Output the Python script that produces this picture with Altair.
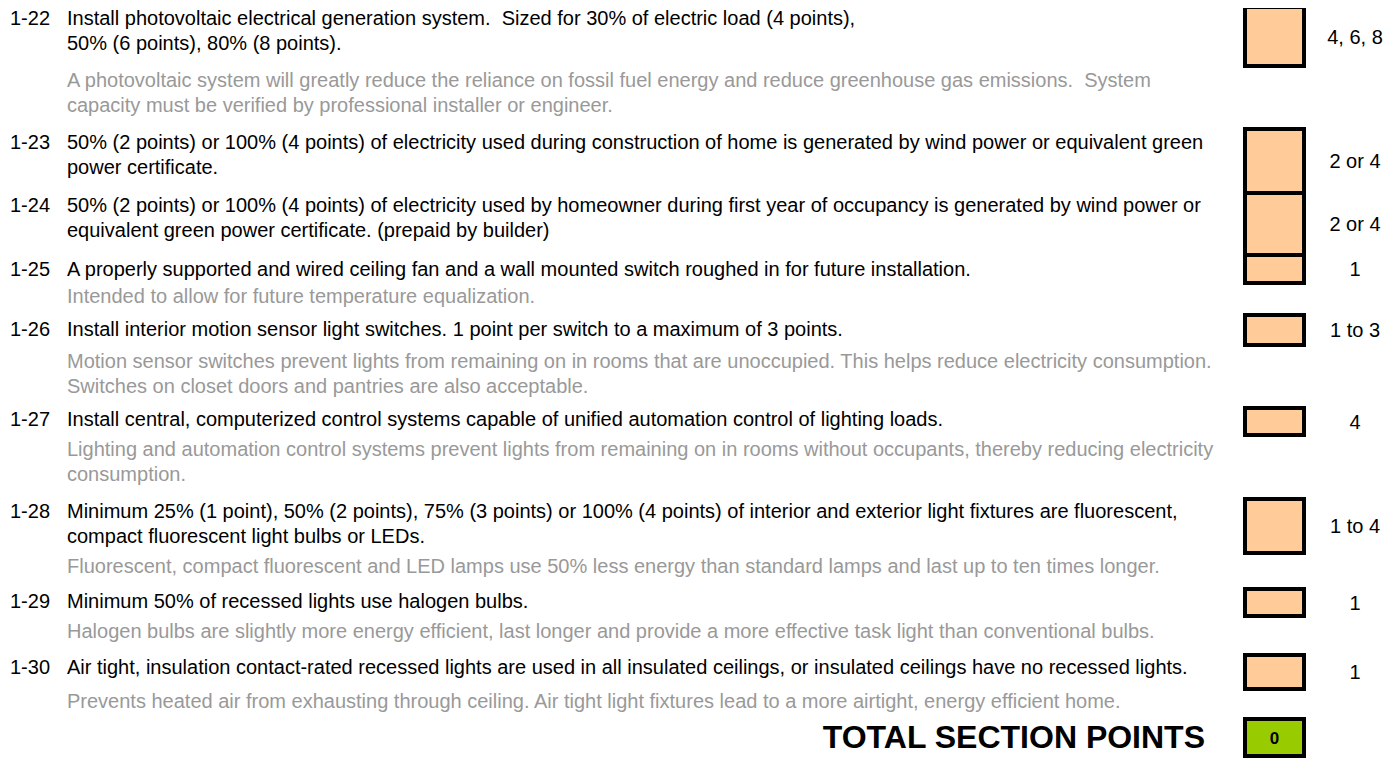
import altair as alt
import pandas as pd

# ---------------- data ----------------
item_ids = ["1-22", "1-23", "1-24", "1-25", "1-26", "1-27", "1-28", "1-29", "1-30"]

main_text = [
    ["Install photovoltaic electrical generation system.\u00a0 Sized for 30% of electric load (4 points),",
     "50% (6 points), 80% (8 points)."],
    ["50% (2 points) or 100% (4 points) of electricity used during construction of home is generated by wind power or equivalent green",
     "power certificate."],
    ["50% (2 points) or 100% (4 points) of electricity used by homeowner during first year of occupancy is generated by wind power or",
     "equivalent green power certificate. (prepaid by builder)"],
    ["A properly supported and wired ceiling fan and a wall mounted switch roughed in for future installation."],
    ["Install interior motion sensor light switches. 1 point per switch to a maximum of 3 points."],
    ["Install central, computerized control systems capable of unified automation control of lighting loads."],
    ["Minimum 25% (1 point), 50% (2 points), 75% (3 points) or 100% (4 points) of interior and exterior light fixtures are fluorescent,",
     "compact fluorescent light bulbs or LEDs."],
    ["Minimum 50% of recessed lights use halogen bulbs."],
    ["Air tight, insulation contact-rated recessed lights are used in all insulated ceilings, or insulated ceilings have no recessed lights."],
]

note_text = [
    ["A photovoltaic system will greatly reduce the reliance on fossil fuel energy and reduce greenhouse gas emissions.\u00a0 System",
     "capacity must be verified by professional installer or engineer."],
    [],
    [],
    ["Intended to allow for future temperature equalization."],
    ["Motion sensor switches prevent lights from remaining on in rooms that are unoccupied. This helps reduce electricity consumption.",
     "Switches on closet doors and pantries are also acceptable."],
    ["Lighting and automation control systems prevent lights from remaining on in rooms without occupants, thereby reducing electricity",
     "consumption."],
    ["Fluorescent, compact fluorescent and LED lamps use 50% less energy than standard lamps and last up to ten times longer."],
    ["Halogen bulbs are slightly more energy efficient, last longer and provide a more effective task light than conventional bulbs."],
    ["Prevents heated air from exhausting through ceiling. Air tight light fixtures lead to a more airtight, energy efficient home."],
]

point_labels = ["4, 6, 8", "2 or 4", "2 or 4", "1", "1 to 3", "4", "1 to 4", "1", "1"]

total_label = "TOTAL SECTION POINTS"
total_value = "0"

# ---------------- layout (page pixels) ----------------
W, H = 1398, 759
MARGIN = 8
ROW_Y = [19, 143, 206, 270, 330, 420, 512, 602, 668]      # first main line of each item
NOTE_Y = [81, None, None, 297, 362, 450, 567, 632, 702]   # first note line of each item
LINE_STEP = 24.5
NUM_X, TEXT_X = 10, 67
BOX_X = (1245, 1304)
BOX_Y = [(7, 66), (129, 193), (193, 255), (255, 283), (315, 345),
         (408, 435), (499, 553), (589, 616), (655, 689)]
TOTAL_BOX_Y = (719, 756)
POINTS_X = 1355
TOTAL_TEXT_X, TOTAL_TEXT_Y = 1205, 738
FONT = "Liberation Sans"

# ---------------- tables ----------------
num_rows, main_rows, note_rows, pts_rows, box_rows = [], [], [], [], []
for i, item in enumerate(item_ids):
    num_rows.append({"x": NUM_X, "y": ROW_Y[i], "t": item})
    for j, line in enumerate(main_text[i]):
        main_rows.append({"x": TEXT_X, "y": ROW_Y[i] + j * LINE_STEP, "t": line})
    if NOTE_Y[i] is not None:
        for j, line in enumerate(note_text[i]):
            note_rows.append({"x": TEXT_X, "y": NOTE_Y[i] + j * 25, "t": line})
    y0, y1 = BOX_Y[i]
    box_rows.append({"x": BOX_X[0], "x2": BOX_X[1], "y": y0, "y2": y1})
    pts_rows.append({"x": POINTS_X, "y": (y0 + y1) / 2 + 1, "t": point_labels[i]})

PW, PH = W - 2 * MARGIN, H - MARGIN
xs = alt.Scale(domain=[MARGIN, MARGIN + PW], nice=False, zero=False)
ys = alt.Scale(domain=[MARGIN, MARGIN + PH], nice=False, zero=False, reverse=True)


def X(f="x"):
    return alt.X(f"{f}:Q", scale=xs, axis=None)


def Y(f="y"):
    return alt.Y(f"{f}:Q", scale=ys, axis=None)


def text_layer(rows, color, size=20, align="left", weight="normal"):
    return alt.Chart(pd.DataFrame(rows)).mark_text(
        align=align, baseline="middle", font=FONT, fontSize=size,
        color=color, fontWeight=weight
    ).encode(x=X(), y=Y(), text="t:N")


boxes = alt.Chart(pd.DataFrame(box_rows)).mark_rect(
    fill="#FFCC99", stroke="#000000", strokeWidth=4
).encode(x=X(), x2="x2:Q", y=Y(), y2="y2:Q")

total_box = alt.Chart(pd.DataFrame([{"x": BOX_X[0], "x2": BOX_X[1],
                                     "y": TOTAL_BOX_Y[0], "y2": TOTAL_BOX_Y[1]}])).mark_rect(
    fill="#99CC00", stroke="#000000", strokeWidth=4
).encode(x=X(), x2="x2:Q", y=Y(), y2="y2:Q")

total_val = text_layer([{"x": (BOX_X[0] + BOX_X[1]) / 2, "y": sum(TOTAL_BOX_Y) / 2 + 1, "t": total_value}],
                       "#000000", size=17, align="center", weight="bold")
total_txt = text_layer([{"x": TOTAL_TEXT_X, "y": TOTAL_TEXT_Y, "t": total_label}],
                       "#000000", size=32, align="right", weight="bold")

chart = alt.layer(
    boxes,
    total_box,
    text_layer(num_rows, "#000000"),
    text_layer(main_rows, "#000000"),
    text_layer(note_rows, "#999999"),
    text_layer(pts_rows, "#000000", align="center"),
    total_val,
    total_txt,
).properties(
    width=PW,
    height=PH,
    padding=0,
    autosize=alt.AutoSizeParams(type="none"),
    background="#ffffff",
).configure_view(stroke=None)

chart.save("out.html", embed_options={"renderer": "svg", "actions": False})
